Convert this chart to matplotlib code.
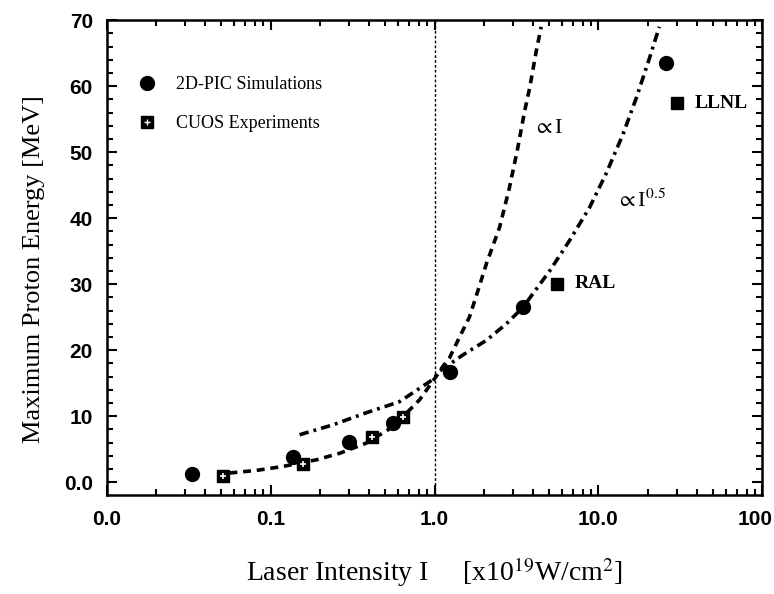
import matplotlib
matplotlib.use("Agg")
import matplotlib.pyplot as plt
import matplotlib.transforms as mtransforms
from matplotlib.ticker import FixedLocator, MultipleLocator, LogLocator, NullFormatter
from matplotlib.lines import Line2D

plt.rcParams['font.family'] = ['Liberation Serif', 'DejaVu Serif']
plt.rcParams['mathtext.fontset'] = 'stix'

# 2D-PIC simulations (circles)
pic_x = [0.033, 0.136, 0.30, 0.555, 1.24, 3.44, 25.9]
pic_y = [1.2, 3.9, 6.1, 9.0, 16.7, 26.5, 63.5]

# CUOS experiments (squares)
cuos_x = [0.051, 0.157, 0.413, 0.638]
cuos_y = [0.9, 2.7, 6.9, 9.9]

# other labs
lab_names = ["RAL", "LLNL"]
lab_x = [5.62, 30.3]
lab_y = [30.1, 57.4]

# curve ~ I
lin_x = [0.056, 0.082, 0.119, 0.19, 0.264, 0.38, 0.557, 0.81, 1.02, 1.12, 1.23,
         1.42, 1.63, 1.87, 2.07, 2.49, 2.86, 3.22, 3.54, 3.80, 4.17, 4.47]
lin_y = [1.4, 1.8, 2.4, 3.4, 4.4, 5.9, 8.4, 12.5, 16.0, 17.5, 18.8,
         22.0, 25.0, 29.6, 33.1, 38.6, 44.6, 50.7, 56.2, 59.7, 65.3, 69.0]

# curve ~ I^0.5
sqrt_x = [0.150, 0.240, 0.38, 0.61, 0.98, 1.07, 1.49, 2.07, 2.74, 3.46, 4.57,
          5.03, 6.65, 8.81, 11.1, 14.1, 17.0, 20.5, 23.5]
sqrt_y = [7.2, 8.7, 10.5, 12.2, 15.6, 16.8, 19.3, 21.5, 24.0, 26.5, 30.6,
          32.0, 36.6, 41.6, 46.7, 52.7, 58.2, 64.3, 69.0]

xticks = [0.01, 0.1, 1.0, 10.0, 100.0]
xticklabels = ["0.0", "0.1", "1.0", "10.0", "100"]
yticks = [0, 10, 20, 30, 40, 50, 60, 70]
yticklabels = ["0.0", "10", "20", "30", "40", "50", "60", "70"]

fig = plt.figure(figsize=(7.74, 5.94), dpi=100)
ax = fig.add_axes([0.138, 0.167, 0.847, 0.799])

ax.axvline(1.0, color="black", lw=1.0, linestyle=(0, (2, 1.5)))

ax.plot(lin_x, lin_y, color="black", lw=2.6, linestyle=(0, (2.2, 1.6)))
ax.plot(sqrt_x, sqrt_y, color="black", lw=2.6, linestyle=(0, (2.6, 1.4, 0.8, 1.4)))

ax.plot(pic_x, pic_y, "o", color="black", markersize=10, zorder=5)
ax.plot(cuos_x, cuos_y, "s", color="black", markersize=9, zorder=6)
ax.plot(cuos_x, cuos_y, "+", color="white", markersize=5, mew=1.2, zorder=7)
ax.plot(lab_x, lab_y, "s", color="black", markersize=9, zorder=6)

for name, x, y in zip(lab_names, lab_x, lab_y):
    ax.text(x * 1.27, y, name, fontsize=14, fontweight="bold", va="center", ha="left")

ax.text(4.0, 53.6, r"$\propto$I", fontsize=16, va="center", ha="left")
ax.text(12.7, 42.6, r"$\propto$I$^{0.5}$", fontsize=16, va="center", ha="left")

h_pic = Line2D([], [], marker="o", color="black", linestyle="none", markersize=10)
h_sq = Line2D([], [], marker="s", color="black", linestyle="none", markersize=8)
h_pl = Line2D([], [], marker="+", color="white", linestyle="none", markersize=4, mew=1)
ax.legend([h_pic, (h_sq, h_pl)], ["2D-PIC Simulations", "CUOS Experiments"],
          loc="upper left", bbox_to_anchor=(0.048, 0.882), frameon=False,
          fontsize=13, handlelength=1.0, handletextpad=1.1, labelspacing=1.2,
          borderaxespad=0, borderpad=0)

ax.set_xscale("log")
ax.set_xlim(0.01, 100)
ax.set_ylim(-1.9, 70)

ax.xaxis.set_major_locator(FixedLocator(xticks))
ax.set_xticklabels(xticklabels)
ax.xaxis.set_minor_locator(LogLocator(base=10, subs=range(2, 10)))
ax.xaxis.set_minor_formatter(NullFormatter())
ax.yaxis.set_major_locator(FixedLocator(yticks))
ax.set_yticklabels(yticklabels)
ax.yaxis.set_minor_locator(MultipleLocator(2))

ax.tick_params(which="both", direction="in", top=True, right=True, width=1.5)
ax.tick_params(which="major", length=7)
ax.tick_params(axis="x", which="major", pad=11)
ax.tick_params(axis="y", which="major", pad=10)
ax.tick_params(which="minor", length=4)
for s in ax.spines.values():
    s.set_linewidth(1.8)

for lab in ax.get_xticklabels() + ax.get_yticklabels():
    lab.set_fontfamily("Liberation Sans")
    lab.set_fontweight("bold")
    lab.set_fontsize(15)

# keep "100" inside the figure
last = ax.get_xticklabels()[-1]
last.set_transform(last.get_transform() +
                   mtransforms.ScaledTranslation(-7 / 100, 0, fig.dpi_scale_trans))

ax.set_xlabel(r"Laser Intensity I     [x10$^{19}$W/cm$^{2}$]", fontsize=20, labelpad=19)
ax.set_ylabel("Maximum Proton Energy [MeV]", fontsize=19)
ax.yaxis.set_label_coords(-0.094, 0.475)

fig.savefig("out.png", dpi=100)
